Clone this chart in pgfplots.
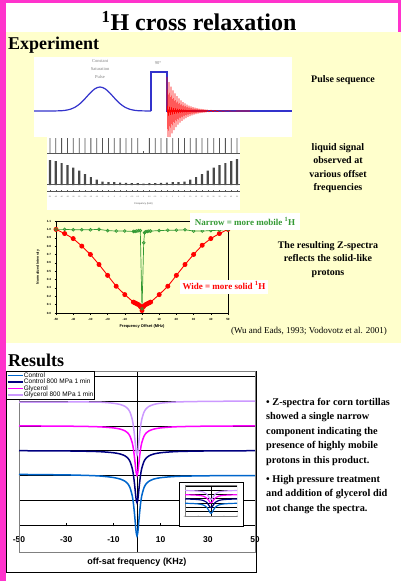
\documentclass[border=0pt]{standalone}
\usepackage{pgfplots}
\usepackage{pgfplotstable}
\pgfplotsset{compat=1.18}
\usepackage{fontspec}
\setmainfont{Liberation Serif}
\setsansfont{Liberation Sans}
\definecolor{mag}{RGB}{255,51,204}
\definecolor{yel}{RGB}{255,255,204}
\definecolor{pblue}{RGB}{51,51,204}
\definecolor{zgreen}{RGB}{51,153,51}
\definecolor{zred}{RGB}{255,0,0}
\definecolor{cctrl}{RGB}{0,102,204}
\definecolor{cctrlhp}{RGB}{0,0,128}
\definecolor{cgly}{RGB}{255,0,255}
\definecolor{cglyhp}{RGB}{204,153,255}
\definecolor{specgray}{RGB}{85,85,85}
\newcommand{\fs}[1]{\fontsize{#1bp}{#1bp}\selectfont}
\pgfplotsset{/pgf/number format/assume math mode=true}

% Results: Z-spectra (off-sat frequency in kHz)
\pgfplotstableread{
x glyhp gly ctrlhp ctrl
-50 4.950 3.995 2.995 2.040
-40 4.955 3.992 2.992 2.030
-30 4.960 3.986 2.986 2.020
-20 4.960 3.971 2.971 1.995
-15 4.950 3.954 2.953 1.970
-10 4.910 3.916 2.914 1.915
-7 4.858 3.865 2.861 1.849
-5 4.779 3.791 2.784 1.761
-4 4.702 3.720 2.710 1.675
-3 4.559 3.589 2.572 1.515
-2 4.253 3.309 2.278 1.172
-1.5 3.972 3.053 2.008 0.856
-1 3.559 2.675 1.611 0.392
-0.5 3.072 2.230 1.142 -0.157
-0.25 2.889 2.063 0.966 -0.363
0 2.820 2.000 0.900 -0.440
0.25 2.889 2.063 0.966 -0.363
0.5 3.072 2.230 1.142 -0.157
1 3.559 2.675 1.611 0.392
1.5 3.972 3.053 2.008 0.856
2 4.253 3.309 2.278 1.172
3 4.559 3.589 2.572 1.515
4 4.702 3.720 2.710 1.675
5 4.779 3.791 2.784 1.761
7 4.858 3.865 2.861 1.849
10 4.913 3.916 2.914 1.908
15 4.953 3.954 2.953 1.951
20 4.971 3.971 2.971 1.970
30 4.986 3.986 2.986 1.985
40 4.992 3.992 2.992 1.992
50 4.995 3.995 2.995 1.995
}\zdata

% liquid signal: reference lines r and saturated peaks h (index, heights in px)
\pgfplotstableread{
i r h
0 15 25
1 15 24
2 15 22
3 15 20
4 15 17.5
5 15 14.5
6 15 11
7 15 8
8 15 5.5
9 15 3.5
10 15 3
11 15 2.8
12 15 2.5
13 15 2.2
14 15 2
15 15 1.8
16 2 1.5
17 15 1.8
18 15 2
19 15 2.2
20 15 2.5
21 15 2.8
22 15 3
23 15 3.5
24 15 5.5
25 15 8
26 15 11
27 15 14.5
28 15 17.5
29 15 20
30 15 22
31 15 24
32 15 26
}\liq

\begin{document}
\begin{tikzpicture}[x=1bp,y=-1bp]
\useasboundingbox (0,0) rectangle (401,581);
\fill[white] (0,0) rectangle (401,581);
\fill[yel] (6,32) rectangle (401,343);
\fill[mag] (0,0) rectangle (401,3);
\fill[mag] (0,0) rectangle (6,581);
\fill[mag] (398,0) rectangle (401,32);

% titles
\node[anchor=base, font=\bfseries\fs{24}, inner sep=0] at (199,31) {\textsuperscript{1}H cross relaxation};
\node[anchor=base west, font=\bfseries\fs{18}, inner sep=0] at (8,50) {Experiment};
\node[anchor=base west, font=\bfseries\fs{18}, inner sep=0] at (8,366) {Results};

% ---------- pulse sequence ----------
\fill[white] (34,57) rectangle (292,137);
\begin{axis}[at={(34bp,-137bp)}, anchor=south west, scale only axis, width=258bp, height=80bp,
  xmin=34, xmax=292, ymin=-26, ymax=54, hide axis]
\addplot[pblue, line width=1.2bp, smooth] coordinates {(34,0)(50,0.01)(60,0.21)(65,0.64)(70,1.68)(75,3.77)(80,7.35)(85,12.3)(90,17.85)(95,22.3)(100,24)(105,22.3)(110,17.85)(115,12.3)(120,7.35)(125,3.77)(130,1.68)(135,0.64)(140,0.21)(150,0.01)(151,0)};
\addplot[pblue, line width=1.2bp, sharp plot] coordinates {(151,0)(151,39)(167,39)(167,0)(292,0)};
\addplot[zred, line width=0.6bp, sharp plot, line join=bevel] coordinates {(167,0)(167,34)(168,-31.4)(169,28.8)(170,-26.5)(171,24.4)(172,-22.4)(173,20.6)(174,-19)(175,17.5)(176,-16.1)(177,14.8)(178,-13.6)(179,12.5)(180,-11.5)(181,10.6)(182,-9.74)(183,8.96)(184,-8.24)(185,7.59)(186,-6.98)(187,6.42)(188,-5.91)(189,5.44)(190,-5)(191,4.6)(192,-4.23)(193,3.9)(194,-3.58)(195,3.3)(196,-3.03)(197,2.79)(198,-2.57)(199,2.36)(200,-2.17)(201,2)(202,-1.84)(203,1.69)(204,-1.56)(205,1.43)(206,-1.32)(207,1.21)(209,-1.03)(211,0.87)(213,-0.74)(215,0.62)(217,-0.53)(220,0.4)(223,-0.3)(227,0.23)(232,-0.15)(240,0.05)(250,0)};
\end{axis}
\node[align=center, font=\fontsize{4.5bp}{8bp}\selectfont, text=gray] at (100,69) {Constant\\Saturation\\Pulse};
\node[font=\fs{4.5}, text=gray] at (158,63) {90°};
\node[anchor=base, font=\bfseries\fs{10}, inner sep=0] at (343,83) {Pulse sequence};

% ---------- liquid signal image ----------
\fill[white] (47,137) rectangle (240,210);
\begin{axis}[at={(47bp,-153bp)}, anchor=south west, scale only axis, width=193bp, height=16bp,
  xmin=-0.5, xmax=32.5, ymin=0, ymax=16, hide axis]
\addplot[ybar, bar width=0.8bp, bar shift=0pt, fill=specgray, draw=none] table[x=i, y=r] {\liq};
\addplot[specgray, line width=0.6bp] coordinates {(-0.5,0)(32.5,0)};
\end{axis}
\begin{axis}[at={(47bp,-185bp)}, anchor=south west, scale only axis, width=193bp, height=26bp,
  xmin=-0.5, xmax=32.5, ymin=0, ymax=26, hide axis]
\addplot[ybar, bar width=2.2bp, bar shift=0pt, fill=specgray!85!black, draw=none] table[x=i, y=h] {\liq};
\addplot[specgray, line width=0.8bp] coordinates {(-0.5,0.4)(32.5,0.4)};
\end{axis}
\begin{axis}[at={(47bp,-191bp)}, anchor=south west, scale only axis, width=193bp, height=2bp,
  xmin=-0.5, xmax=32.5, ymin=0, ymax=1,
  axis x line=bottom, axis y line=none, axis line style={-, specgray, line width=0.5bp},
  xtick={0,...,32}, tick style={specgray, line width=0.4bp}, major tick length=1.5bp,
  xticklabels={-50,-45,-40,-35,-30,-25,-20,-15,-10,-5,-4,-3,-2,-1,-0.5,-0.2,0,0.2,0.5,1,2,3,4,5,10,15,20,25,30,35,40,45,50},
  x tick label style={font=\sffamily\fs{1.8}, text=specgray, yshift=-1bp},
  xlabel={Frequency (kHz)}, xlabel style={font=\sffamily\fs{2.5}, text=specgray, at={(axis description cs:0.5,-6.5)}, anchor=center}]
\addplot[draw=none] coordinates {(0,0.5)};
\end{axis}
\foreach \t/\yy in {liquid signal/151, observed at/164, various offset/177, frequencies/190}
  \node[anchor=base, font=\bfseries\fs{10}, inner sep=0] at (338,\yy) {\t};

% ---------- Z-spectra (experiment) ----------
\begin{axis}[at={(56bp,-313bp)}, anchor=south west, scale only axis, width=172bp, height=92bp,
  xmin=-50, xmax=50, ymin=0, ymax=1.1,
  axis line style={black, line width=0.5bp},
  xtick={-50,-40,...,50}, ytick={0,0.1,...,1.1},
  yticklabel style={/pgf/number format/.cd, fixed, fixed zerofill, precision=1},
  tick label style={font=\sffamily\bfseries\fs{3}},
  tick style={black, line width=0.4bp}, major tick length=1.5bp, tick align=outside,
  xtick pos=bottom, ytick pos=left,
  xlabel={Frequency Offset (MHz)}, ylabel={Normalized Intensity},
  xlabel style={font=\sffamily\bfseries\fs{4}, at={(axis description cs:0.5,-0.15)}, anchor=center},
  ylabel style={font=\sffamily\bfseries\fs{3.5}, at={(axis description cs:-0.105,0.5)}, anchor=center}]
\addplot[zred, line width=0.9bp, mark=*, mark size=2bp, mark options={fill=zred}] coordinates {(-50,1.0)(-45,0.95)(-40,0.89)(-35,0.80)(-30,0.70)(-25,0.58)(-20,0.45)(-15,0.32)(-10,0.22)(-5,0.13)(-4,0.12)(-3,0.11)(-2,0.10)(-1,0.08)(-0.5,0.07)(0,0.03)(0.5,0.07)(1,0.08)(2,0.10)(3,0.11)(4,0.12)(5,0.13)(10,0.22)(15,0.32)(20,0.45)(25,0.58)(30,0.70)(35,0.81)(40,0.89)(45,0.95)(50,1.0)};
\addplot[zgreen, line width=0.7bp, mark=o, mark size=1.4bp] coordinates {(-50,1.0)(-45,1.0)(-40,0.995)(-35,0.995)(-30,0.995)(-25,1.0)(-20,0.985)(-15,0.98)(-10,0.98)(-5,0.975)(-4,0.975)(-3,0.98)(-2,0.985)(-1,0.985)(0,0.05)(1,0.84)(1.5,0.96)(2,0.97)(3,0.975)(4,0.98)(5,0.98)(10,0.985)(15,0.99)(20,0.99)(25,0.995)(30,0.98)(35,0.98)(40,0.985)(45,0.99)(50,1.0)};
\end{axis}
\fill[white] (190,213) rectangle (300,230);
\node[anchor=base, font=\bfseries\fs{9}, text=zgreen, inner sep=0] at (245,225) {Narrow = more mobile \textsuperscript{1}H};
\fill[white] (180,280) rectangle (268,294);
\node[anchor=base, font=\bfseries\fs{9}, text=zred, inner sep=0] at (224,289) {Wide = more solid \textsuperscript{1}H};
\foreach \t/\yy in {The resulting Z-spectra/248.5, reflects the solid-like/261.5, protons/275}
  \node[anchor=base, font=\bfseries\fs{10}, inner sep=0] at (328,\yy) {\t};
\node[anchor=base, font=\fs{9}, inner sep=0] at (309,333) {(Wu and Eads, 1993; Vodovotz et al. 2001)};

% ---------- Results chart ----------
\draw[black, line width=1bp] (6,371) rectangle (256,572);
\begin{axis}[at={(19bp,-552bp)}, anchor=south west, scale only axis, width=236bp, height=181bp,
  xmin=-50, xmax=50, ymin=-1.09, ymax=6.21, clip=false,
  axis lines=center, axis line style={-, black, line width=0.8bp},
  xtick={-50,-30,-10,10,30,50}, ytick={0,1,...,6}, yticklabels={},
  ymajorgrids, grid style={black, line width=0.6bp},
  tick style={black, line width=0.6bp}, tick align=center, major tick length=3bp,
  x tick label style={font=\sffamily\bfseries\fs{8.5}, yshift=-7bp},
  legend style={at={(axis description cs:-0.0551,1)}, anchor=north west, draw=black, line width=0.8bp,
    fill=white, font=\sffamily\fontsize{6.5bp}{7bp}\selectfont, inner sep=0.5bp, row sep=-1bp,
    nodes={inner sep=0.6bp}},
  legend cell align=left,
  legend image code/.code={\draw[#1] (0bp,0bp) -- (15bp,0bp);}]
\draw[gray, line width=0.8bp] (rel axis cs:0,0) rectangle (rel axis cs:1,1);
\addplot[cctrl, line width=1.5bp, smooth] table[x=x, y=ctrl] {\zdata};
\addlegendentry{Control}
\addplot[cctrlhp, line width=1.5bp, smooth] table[x=x, y=ctrlhp] {\zdata};
\addlegendentry{Control 800 MPa 1 min}
\addplot[cgly, line width=1.5bp, smooth] table[x=x, y=gly] {\zdata};
\addlegendentry{Glycerol}
\addplot[cglyhp, line width=1.5bp, smooth] table[x=x, y=glyhp] {\zdata};
\addlegendentry{Glycerol 800 MPa 1 min}
\end{axis}
\node[anchor=base, font=\sffamily\bfseries\fs{9}, inner sep=0] at (137,564.5) {off-sat frequency (KHz)};

% inset
\filldraw[fill=white, draw=black, line width=0.9bp] (179,482) rectangle (243,526);
\begin{axis}[at={(185bp,-516bp)}, anchor=south west, scale only axis, width=52bp, height=31bp,
  xmin=-10, xmax=10, ymin=-1.09, ymax=6.21,
  axis lines=center, axis line style={-, black, line width=0.5bp},
  xtick={-10,-5,0,5,10}, ytick={0,1,...,6}, yticklabels={},
  ymajorgrids, grid style={black, line width=0.35bp},
  tick style={black, line width=0.4bp}, tick align=center, major tick length=1bp,
  x tick label style={font=\sffamily\fs{1.8}, yshift=-1.2bp}]
\draw[gray, line width=0.4bp] (rel axis cs:0,0) rectangle (rel axis cs:1,1);
\addplot[cctrl, line width=1.2bp, smooth] table[x=x, y=ctrl] {\zdata};
\addplot[cctrlhp, line width=1.2bp, smooth] table[x=x, y=ctrlhp] {\zdata};
\addplot[cgly, line width=1.2bp, smooth] table[x=x, y=gly] {\zdata};
\addplot[cglyhp, line width=1.2bp, smooth] table[x=x, y=glyhp] {\zdata};
\end{axis}

% bullet text
\foreach \t/\yy in {{• Z-spectra for corn tortillas}/405, {showed a single narrow}/419.5, {component indicating the}/434, {presence of highly mobile}/448.5, {protons in this product.}/463, {• High pressure treatment}/482, {and addition of glycerol did}/496.5, {not change the spectra.}/511}
  \node[anchor=base west, font=\bfseries\fs{10.3}, inner sep=0] at (266,\yy) {\t};
\end{tikzpicture}
\end{document}
